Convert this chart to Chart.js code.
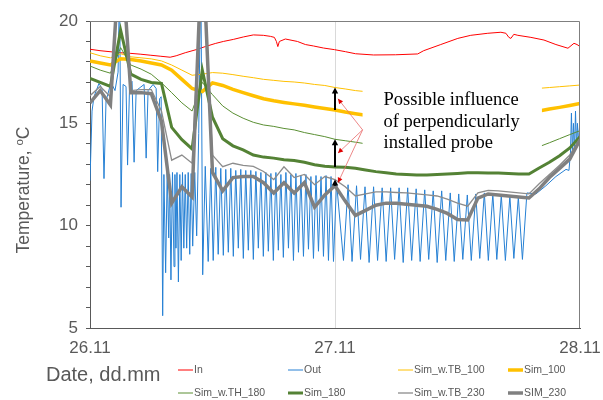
<!DOCTYPE html>
<html>
<head>
<meta charset="utf-8">
<script src="https://cdn.jsdelivr.net/npm/chart.js@4.4.1/dist/chart.umd.min.js"></script>
<style>
  html, body { margin: 0; padding: 0; background: #fff; }
  #wrap { width: 603px; height: 400px; }
</style>
</head>
<body>
<div id="wrap"><canvas id="temp-chart" width="603" height="400"></canvas></div>
<script>
// x axis in hours from 26.11 00:00
const xTickValues = [0, 24, 48];
const xTickLabels = ['26.11', '27.11', '28.11'];

// hourly simulation results
const simHours = [0,1,2,3,4,5,6,7,8,9,10,11,12,13,14,15,16,17,18,19,20,21,22,23,24,
  25,26,27,28,29,30,31,32,33,34,35,36,37,38,39,40,41,42,43,44,45,46,47,48];
const simTB100 = [18.45,18.3,18.2,18.4,18.25,18.2,18.15,18.05,17.85,17.6,17.35,17.4,17.48,17.45,17.38,17.3,17.23,
  17.15,17.1,17.05,17.02,16.97,16.9,16.85,16.75,16.68,16.6,16.55,16.5,16.45,16.4,16.4,16.4,16.4,16.42,16.45,
  16.5,16.55,16.6,16.62,16.65,16.67,16.69,16.7,16.71,16.75,16.79,16.83,16.87];
const sim100 = [18.05,17.95,17.85,18.15,18.12,18.05,17.95,17.85,17.6,17.15,16.7,16.55,16.98,16.85,16.66,16.5,16.35,
  16.2,16.1,16.02,15.95,15.88,15.8,15.72,15.65,15.55,15.47,15.4,15.35,15.3,15.28,15.27,15.27,15.28,15.3,15.32,
  15.35,15.38,15.42,15.46,15.5,15.53,15.55,15.57,15.6,15.7,15.78,15.87,15.97];
const simTH180 = [17.8,17.6,17.45,18.7,17.85,17.65,17.4,16.98,16.5,16.0,15.6,17.0,16.4,15.85,15.5,15.25,15.05,
  14.92,14.85,14.75,14.68,14.55,14.45,14.35,14.22,14.15,14.08,14.0,13.95,13.9,13.87,13.85,13.83,13.82,13.8,13.8,
  13.8,13.8,13.8,13.8,13.82,13.83,13.84,13.85,13.86,14.05,14.25,14.45,14.64];
const sim180 = [17.2,17.0,16.8,19.55,17.4,17.15,17.0,16.95,14.8,14.2,13.75,17.6,15.3,14.25,13.9,13.7,13.45,
  13.35,13.3,13.22,13.18,13.1,12.98,12.9,12.87,12.85,12.8,12.72,12.64,12.58,12.53,12.5,12.48,12.48,12.5,12.52,
  12.55,12.58,12.58,12.57,12.57,12.55,12.53,12.52,12.82,13.1,13.42,13.8,14.35];
const simTB230 = [16.35,16.8,16.3,23,16.6,16.65,16.65,15.6,13.2,13.45,13.05,23,13.45,12.88,13.05,12.95,12.9,
  12.65,12.25,12.88,12.35,12.5,12.0,12.4,12.25,11.9,11.45,11.55,11.65,11.65,11.62,11.6,11.55,11.5,11.45,11.3,
  11.1,10.95,11.6,11.72,11.7,11.65,11.6,11.55,12.05,12.5,12.95,13.45,14.25];
const sim230 = [16.0,16.6,15.9,24,16.5,16.5,16.45,15.1,11.1,11.9,11.4,24,12.6,11.7,12.35,12.4,12.4,
  12.1,11.6,12.1,11.6,12.1,10.9,11.5,11.95,11.2,10.5,10.75,11.0,11.1,11.1,11.05,11.0,10.95,10.8,10.6,
  10.3,10.28,11.35,11.55,11.5,11.45,11.4,11.35,11.8,12.35,12.8,13.25,14.2];

// measured indoor temperature
const inHours = [0,0.98,1.96,2.94,3.93,4.91,5.89,6.87,7.85,8.44,9.33,10.4,11.29,12.27,13.06,14.04,15.02,16.0,
  16.98,17.67,18.06,18.26,18.4,18.55,19.14,20.32,21.1,21.89,22.87,23.95,25.03,26.01,27.78,29.94,32.1,32.69,
  34.36,36.03,37.3,38.97,40.25,40.74,41.03,41.23,41.52,41.91,43.19,44.47,45.64,46.82,47.41,47.71,48.0];
const inTemp = [18.62,18.55,18.5,18.45,18.42,18.38,18.33,18.28,18.23,18.3,18.45,18.6,18.75,18.9,19.0,19.1,19.22,19.32,
  19.3,19.25,19.2,19.0,18.75,19.0,19.12,19.0,18.85,18.78,18.68,18.6,18.5,18.4,18.34,18.35,18.39,18.55,
  18.85,19.15,19.3,19.4,19.45,19.4,19.2,19.15,19.35,19.3,19.2,19.07,18.85,18.67,18.91,18.85,18.75];

// measured outlet temperature (spiky)
const outHours = [0.00,0.20,0.39,0.88,1.18,1.37,1.57,2.06,2.45,2.75,2.90,3.04,3.24,3.53,3.68,3.88,4.12,4.32,4.52,
  4.91,5.30,5.50,5.69,6.18,6.48,6.63,6.82,6.97,7.12,
  7.24,7.41,7.56,7.71,7.80,7.93,8.08,8.23,8.32,8.42,8.52,8.66,8.80,8.93,9.06,9.19,9.33,9.47,9.62,9.77,9.91,
  10.06,10.26,10.45,10.65,10.85,11.04,11.29,
  11.58,11.83,12.07,12.32,12.56,12.81,13.06,13.30,13.55,13.79,14.04,14.28,14.53,14.77,15.02,15.26,15.51,15.75,
  16.00,16.25,16.49,16.74,16.98,17.23,17.47,17.72,17.96,18.21,18.45,18.70,18.94,19.19,19.44,19.68,19.93,20.17,
  20.42,20.66,20.91,21.15,21.40,21.64,21.89,22.14,22.38,22.63,22.87,23.12,23.36,23.61,23.85,24.15,
  24.83,25.28,25.67,26.11,26.50,26.94,27.34,27.78,28.17,28.62,29.01,29.45,29.84,30.28,30.68,31.12,31.51,31.95,
  32.34,32.79,33.18,33.62,34.01,34.45,34.85,35.29,35.68,36.12,36.52,36.96,37.35,37.79,38.18,38.63,39.02,39.46,
  39.85,40.29,40.69,41.13,41.52,41.96,42.36,
  42.80,43.68,44.66,45.64,46.63,46.92,47.07,47.16,47.26,47.36,47.46,47.56,47.66,47.75,47.85,47.95,48.00];
const outTemp = [12.2,15.6,16.3,16.95,16.7,12.3,16.1,17.0,16.6,17.5,22,10.9,16.9,16.8,12.96,16.9,17.05,13.1,16.6,
  16.75,16.9,13.3,16.6,16.9,16.7,12.64,16.2,16.3,5.6,
  12.5,7.7,12.6,9.4,12.5,7.35,12.6,8.0,12.5,8.9,12.6,7.25,12.5,8.3,12.6,8.9,12.5,8.9,12.6,8.6,12.55,
  9.0,12.6,9.5,14.5,23,7.6,12.9,
  8.25,12.8,8.3,12.85,8.6,12.8,8.55,12.75,8.7,12.8,8.5,12.7,8.9,12.75,8.4,12.7,8.8,12.7,
  8.35,12.65,8.9,12.6,8.5,12.6,8.75,12.55,8.3,12.6,8.8,12.5,8.45,12.6,8.9,12.5,8.3,12.55,
  8.7,12.45,8.5,12.5,8.85,12.4,8.4,12.45,8.75,12.4,8.5,12.45,8.3,12.4,8.25,12.1,
  8.3,12.0,8.25,11.95,8.35,11.9,8.2,11.9,8.3,11.85,8.25,11.85,8.35,11.85,8.2,11.85,8.3,11.8,
  8.25,11.75,8.35,11.7,8.2,11.7,8.3,11.6,8.25,11.55,8.35,11.5,8.3,11.55,8.4,11.6,8.3,11.55,
  8.35,11.5,8.3,11.45,8.4,11.4,8.35,
  11.6,11.55,11.95,12.4,12.75,12.7,13.6,15.5,13.5,15.0,13.6,15.6,13.8,15.0,14.0,14.8,14.4];

// annotation text
const noteLines = ['Possible influence', 'of perpendicularly', 'installed probe'];

function pts(xs, ys) {
  return xs.map((x, i) => ({ x: x, y: ys[i] }));
}

const GREY = '#595959';
Chart.defaults.font.family = '"Liberation Sans", Arial, sans-serif';
Chart.defaults.color = GREY;

function line(label, xs, ys, color, width, order) {
  return {
    label: label,
    data: pts(xs, ys),
    borderColor: color,
    backgroundColor: color,
    borderWidth: width,
    pointRadius: 0,
    tension: 0,
    fill: false,
    clip: 0,
    order: order
  };
}

const datasets = [
  line('In', inHours, inTemp, '#ff0000', 1, 8),
  line('Out', outHours, outTemp, '#2680d4', 1, 7),
  line('Sim_w.TB_100', simHours, simTB100, '#ffc000', 1, 6),
  line('Sim_100', simHours, sim100, '#ffc000', 3.5, 5),
  line('Sim_w.TH_180', simHours, simTH180, '#5a8f33', 1, 4),
  line('Sim_180', simHours, sim180, '#548235', 3, 3),
  line('Sim_w.TB_230', simHours, simTB230, '#8c8c8c', 1.3, 2),
  line('SIM_230', simHours, sim230, '#808080', 3.5, 1)
];

function arrowHead(ctx, x0, y0, x1, y1, len, half, color) {
  const a = Math.atan2(y1 - y0, x1 - x0);
  ctx.fillStyle = color;
  ctx.beginPath();
  ctx.moveTo(x1, y1);
  ctx.lineTo(x1 - len * Math.cos(a) + half * Math.sin(a), y1 - len * Math.sin(a) - half * Math.cos(a));
  ctx.lineTo(x1 - len * Math.cos(a) - half * Math.sin(a), y1 - len * Math.sin(a) + half * Math.cos(a));
  ctx.closePath();
  ctx.fill();
}

const framePlugin = {
  id: 'frame',
  afterDatasetsDraw(chart) {
    const { ctx, chartArea: a } = chart;
    ctx.save();
    ctx.strokeStyle = '#7f7f7f';
    ctx.lineWidth = 1;
    ctx.beginPath();
    ctx.moveTo(a.left, a.top + 0.5);
    ctx.lineTo(a.right - 0.5, a.top + 0.5);
    ctx.lineTo(a.right - 0.5, a.bottom);
    ctx.stroke();
    ctx.restore();
  }
};

const notePlugin = {
  id: 'notes',
  afterDatasetsDraw(chart) {
    const { ctx } = chart;
    const x = chart.scales.x, y = chart.scales.y;
    ctx.save();
    // white text box
    const bx0 = x.getPixelForValue(26.7), bx1 = x.getPixelForValue(44.27);
    const by0 = y.getPixelForValue(17.3), by1 = y.getPixelForValue(13.4);
    ctx.fillStyle = '#ffffff';
    ctx.fillRect(bx0, by0, bx1 - bx0, by1 - by0);
    ctx.fillStyle = '#000000';
    ctx.font = '18.5px "Liberation Serif", "Times New Roman", serif';
    ctx.textAlign = 'left';
    ctx.textBaseline = 'middle';
    noteLines.forEach((t, i) => ctx.fillText(t, bx0 + 21, by0 + 24 + i * 21.5));

    // black arrows between thick and thin series at 27.11
    const ax = x.getPixelForValue(24);
    const pairs = [[sim100, simTB100], [sim180, simTH180], [sim230, simTB230]];
    const ox = bx0, oy = y.getPixelForValue(14.68);
    pairs.forEach(([lo, hi]) => {
      const y0 = y.getPixelForValue(lo[24]);
      const y1 = y.getPixelForValue(hi[24]);
      ctx.strokeStyle = '#000';
      ctx.lineWidth = 2;
      ctx.beginPath();
      ctx.moveTo(ax, y0);
      ctx.lineTo(ax, y1 + 4);
      ctx.stroke();
      arrowHead(ctx, ax, y0, ax, y1, 6, 3.2, '#000');
      // red pointer from the note
      const tx = ax + 3, ty = (y0 + y1) / 2;
      ctx.strokeStyle = '#e86a6a';
      ctx.lineWidth = 0.8;
      ctx.beginPath();
      ctx.moveTo(ox, oy);
      ctx.lineTo(tx, ty);
      ctx.stroke();
      arrowHead(ctx, ox, oy, tx, ty, 5, 2.5, '#e00000');
    });
    ctx.restore();
  }
};

const textPlugin = {
  id: 'texts',
  afterDraw(chart) {
    const { ctx } = chart;
    ctx.save();
    ctx.fillStyle = GREY;
    // y axis title with superscript
    ctx.translate(29, 190);
    ctx.rotate(-Math.PI / 2);
    ctx.textBaseline = 'alphabetic';
    const big = '17.5px "Liberation Sans", Arial, sans-serif';
    const small = '11.5px "Liberation Sans", Arial, sans-serif';
    ctx.font = big;
    const main = 'Temperature, ';
    const wMain = ctx.measureText(main).width;
    const wC = ctx.measureText('C').width;
    ctx.font = small;
    const wSup = ctx.measureText('o').width;
    let sx = -(wMain + wSup + wC) / 2;
    ctx.textAlign = 'left';
    ctx.font = big;
    ctx.fillText(main, sx, 0);
    sx += wMain;
    ctx.font = small;
    ctx.fillText('o', sx, -6.5);
    sx += wSup;
    ctx.font = big;
    ctx.fillText('C', sx, 0);
    ctx.restore();

    // x axis title
    ctx.save();
    ctx.fillStyle = GREY;
    ctx.font = '20px "Liberation Sans", Arial, sans-serif';
    ctx.textAlign = 'left';
    ctx.textBaseline = 'middle';
    ctx.fillText('Date, dd.mm', 46, 375);

    // legend, 4 columns x 2 rows
    const cols = [178, 288, 398, 508];
    const rows = [370, 393];
    ctx.font = '10.5px "Liberation Sans", Arial, sans-serif';
    chart.data.datasets.forEach((ds, i) => {
      const lx = cols[i % 4], ly = rows[Math.floor(i / 4)];
      ctx.strokeStyle = ds.borderColor;
      ctx.lineWidth = ds.borderWidth;
      ctx.beginPath();
      ctx.moveTo(lx, ly);
      ctx.lineTo(lx + 15, ly);
      ctx.stroke();
      ctx.fillStyle = GREY;
      ctx.fillText(ds.label, lx + 16, ly);
    });
    ctx.restore();
  }
};

new Chart(document.getElementById('temp-chart'), {
  type: 'line',
  data: { datasets: datasets },
  options: {
    responsive: false,
    animation: false,
    events: [],
    layout: { padding: { left: 0, right: 23, top: 21, bottom: 0 } },
    plugins: {
      legend: { display: false },
      tooltip: { enabled: false }
    },
    scales: {
      x: {
        type: 'linear',
        min: 0,
        max: 48,
        afterBuildTicks(scale) {
          scale.ticks = xTickValues.map(v => ({ value: v }));
        },
        afterFit(scale) {
          scale.height = 72;
          scale.paddingLeft = 0;
          scale.paddingRight = 0;
        },
        ticks: {
          autoSkip: false,
          maxRotation: 0,
          padding: 10,
          color: GREY,
          font: { size: 17 },
          callback: v => xTickLabels[xTickValues.indexOf(v)]
        },
        grid: {
          drawTicks: false,
          color: ctx => (ctx.tick && ctx.tick.value === 24) ? '#d9d9d9' : 'rgba(0,0,0,0)'
        },
        border: { display: true, color: GREY, width: 1 }
      },
      y: {
        min: 5,
        max: 20,
        afterFit(scale) {
          scale.width = 90;
          scale.paddingTop = 0;
          scale.paddingBottom = 0;
        },
        ticks: {
          stepSize: 1,
          autoSkip: false,
          padding: 8,
          color: GREY,
          font: { size: 17 },
          callback: v => (v % 5 === 0 ? String(v) : '')
        },
        grid: {
          drawOnChartArea: false,
          drawTicks: true,
          tickLength: 4,
          color: GREY
        },
        border: { display: true, color: GREY, width: 1 }
      }
    }
  },
  plugins: [framePlugin, notePlugin, textPlugin]
});
</script>
</body>
</html>
